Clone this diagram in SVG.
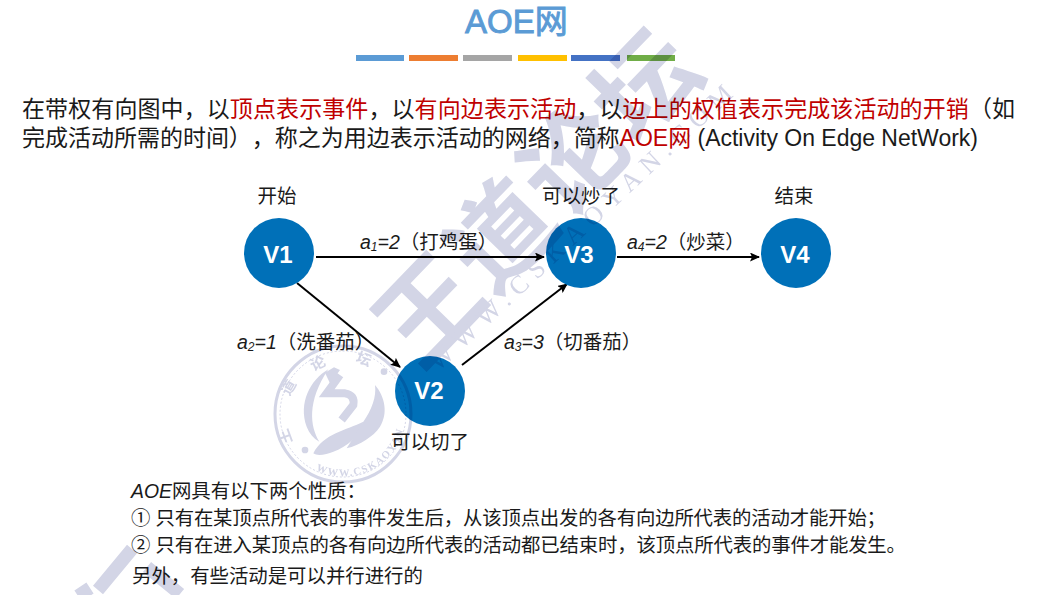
<svg xmlns="http://www.w3.org/2000/svg" width="1044" height="595" viewBox="0 0 1044 595">
<style>
text{font-family:"Liberation Sans","Noto Sans CJK SC",sans-serif;fill:#1a1a1a;text-spacing-trim:space-all}
.p{font-size:23px}
.r{fill:#c00000}
.l{font-size:19.5px}
.b{font-size:19.4px}
.i{font-style:italic}
.s{font-size:12px;font-style:italic}
.n circle{fill:#0070b8}
.n text{font-size:24px;font-weight:bold;fill:#fff;text-anchor:middle}
.c{stroke:#000;stroke-width:2;fill:none;marker-end:url(#a)}
.wm{fill:#d3d5e6;font-family:"Noto Sans CJK SC",sans-serif;font-weight:700}
.ws{fill:#d3d5e6;font-family:"Liberation Serif",serif}
.sc{font-size:15px;text-anchor:middle}
#wm{mix-blend-mode:multiply}
.st{stroke:#d3d5e6;fill:none}
</style>
<defs>
<marker id="a" markerWidth="10" markerHeight="9" refX="9" refY="4.5" orient="auto" markerUnits="userSpaceOnUse" viewBox="0 0 10 9"><path d="M0 0L10 4.5L0 9L2 4.5Z" fill="#000"/></marker>
<path id="arcB" d="M316 470a62 62 0 0 0 88 -43"/>
</defs>
<rect width="1044" height="595" fill="#fff"/>
<g id="title">
<text x="465" y="33" style="font-size:33px;fill:#5b9bd5;stroke:#5b9bd5;stroke-width:.9">AOE网</text>
<g>
<rect x="356" y="55" width="48" height="6" fill="#5b9bd5"/>
<rect x="409" y="55" width="49" height="6" fill="#ed7d31"/>
<rect x="463" y="55" width="49" height="6" fill="#a5a5a5"/>
<rect x="518" y="55" width="49" height="6" fill="#ffc000"/>
<rect x="571" y="55" width="49" height="6" fill="#4472c4"/>
<rect x="627" y="55" width="48" height="6" fill="#70ad47"/>
</g>
</g>
<g id="intro">
<text class="p" x="22" y="117" textLength="993">在带权有向图中，以<tspan class="r">顶点表示事件</tspan>，以<tspan class="r">有向边表示活动</tspan>，以<tspan class="r">边上的权值表示完成该活动的开销</tspan>（如</text>
<text class="p" x="22" y="146" textLength="956">完成活动所需的时间），称之为用边表示活动的网络，简称<tspan class="r">AOE网</tspan> (Activity On Edge NetWork)</text>
</g>
<g id="connectors">
<line class="c" x1="316" y1="257" x2="544" y2="257"/>
<line class="c" x1="297" y1="283" x2="400" y2="367"/>
<line class="c" x1="462" y1="365" x2="567" y2="284"/>
<line class="c" x1="617" y1="257" x2="759" y2="257"/>
</g>
<g id="v1" class="n"><circle cx="279" cy="253" r="35"/><text x="278" y="263">V1</text></g>
<g id="v2" class="n"><circle cx="430" cy="391" r="35"/><text x="429" y="399">V2</text></g>
<g id="v3" class="n"><circle cx="581" cy="253" r="35"/><text x="579" y="263">V3</text></g>
<g id="v4" class="n"><circle cx="796" cy="253" r="35"/><text x="795" y="263">V4</text></g>
<g id="labels">
<text class="l" x="277" y="203" text-anchor="middle">开始</text>
<text class="l" x="581" y="203" text-anchor="middle">可以炒了</text>
<text class="l" x="794" y="203" text-anchor="middle">结束</text>
<text class="l" x="430" y="449" text-anchor="middle">可以切了</text>
<text class="l" x="360" y="249"><tspan class="i">a</tspan><tspan class="s" dy="2">1</tspan><tspan class="i" dy="-2">=2</tspan>（打鸡蛋）</text>
<text class="l" x="237" y="349"><tspan class="i">a</tspan><tspan class="s" dy="2">2</tspan><tspan class="i" dy="-2">=1</tspan>（洗番茄）</text>
<text class="l" x="504" y="349"><tspan class="i">a</tspan><tspan class="s" dy="2">3</tspan><tspan class="i" dy="-2">=3</tspan>（切番茄）</text>
<text class="l" x="627" y="249"><tspan class="i">a</tspan><tspan class="s" dy="2">4</tspan><tspan class="i" dy="-2">=2</tspan>（炒菜）</text>
</g>
<g id="notes">
<text class="b" x="131" y="498"><tspan class="i">AOE</tspan>网具有以下两个性质：</text>
<text class="b" x="131" y="525" textLength="755">① 只有在某顶点所代表的事件发生后，从该顶点出发的各有向边所代表的活动才能开始；</text>
<text class="b" x="131" y="552" textLength="775">② 只有在进入某顶点的各有向边所代表的活动都已结束时，该顶点所代表的事件才能发生。</text>
<text class="b" x="132" y="583">另外，有些活动是可以并行进行的</text>
</g>
<g id="wm">
<text class="wm" transform="translate(420 372) rotate(-46)" font-size="102" style="letter-spacing:2px">王道论坛</text>
<text class="ws" transform="translate(438 372) rotate(-43)" font-size="26" style="letter-spacing:8px">WWW.CSKAOYAN.COM</text>
<path class="st" stroke-width="13" d="M98 590L132 549M147 567L180 594M78 596L90 588"/>
<g id="seal">
<circle cx="343" cy="414" r="68" fill="none" stroke="#d3d5e6" stroke-width="3"/>
<circle cx="343" cy="414" r="63" fill="none" stroke="#d3d5e6" stroke-width="1" stroke-dasharray="2 2"/>
<text class="wm sc" transform="translate(290 435) rotate(-110)">王</text>
<text class="wm sc" transform="translate(293 390) rotate(-60)">道</text>
<text class="wm sc" transform="translate(320 368) rotate(-25)">论</text>
<text class="wm sc" transform="translate(362 364) rotate(20)">坛</text>
<text class="ws" font-size="10.5" font-weight="700" style="letter-spacing:1.5px"><textPath href="#arcB">WWW.CSKAOYAN</textPath></text>
<g transform="translate(260 330) scale(.3333)" fill="#d3d5e6">
<circle cx="372" cy="125" r="10"/><circle cx="135" cy="360" r="10"/>
<path d="M205 118C150 150 115 220 140 290C148 310 160 325 178 335C150 290 140 215 205 118Z"/>
<path d="M195 128L222 112L240 120L222 145L210 160Z"/>
<path d="M240 135L200 190L255 190Q285 195 280 225L245 270" fill="none" stroke="#d3d5e6" stroke-width="24"/>
<path d="M160 370C190 310 260 300 310 275C300 320 260 350 220 365C200 372 175 380 160 370Z"/>
<path d="M310 275C335 240 350 200 345 165C375 200 385 250 360 290C340 320 300 345 260 355Z"/>
</g>
</g>
</g>
</svg>
